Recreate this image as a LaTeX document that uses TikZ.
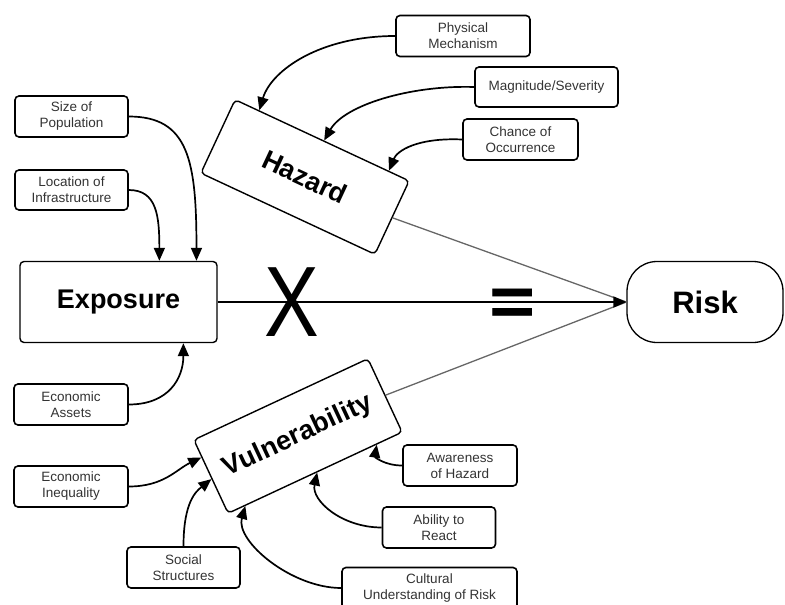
\documentclass[tikz,border=0pt]{standalone}
\usepackage{fontspec}
\setmainfont{Liberation Sans}
\usetikzlibrary{arrows.meta,calc}
\begin{document}
\begin{tikzpicture}[x=1pt,y=-1pt,
  smallbox/.style={draw, rounded corners=4pt, line width=1.6pt, inner sep=0pt,
    minimum height=41pt, align=center, text=black!80,
    font=\fontsize{13.5}{16}\selectfont},
  bigbox/.style={draw, rounded corners=4pt, line width=1.4pt, inner sep=0pt,
    minimum width=192pt, minimum height=81pt, font=\bfseries\fontsize{27}{30}\selectfont},
  conn/.style={line width=1.7pt, -{Triangle[length=13pt,width=11pt]}},
  feed/.style={line width=1.3pt, draw=black!60}
]
\useasboundingbox (0,0) rectangle (785,605);

% main nodes
\node[bigbox, minimum width=197pt] (ex) at (118.5,302) {Exposure};
\node[draw, line width=1.3pt, rounded corners=30pt, minimum width=156pt, minimum height=81pt,
  inner sep=0pt, font=\bfseries\fontsize{31}{34}\selectfont] (ri) at (705,302) {Risk};
\node[bigbox, rotate=-25] (hz) at (305,177) {Hazard};
\node[bigbox, rotate=25] (vu) at (298,436) {Vulnerability};

% small boxes
\node[smallbox, minimum width=134pt] (pm) at (463,36) {Physical\\Mechanism};
\node[smallbox, minimum width=143pt, minimum height=40pt] (ms) at (546.5,87) {Magnitude/Severity};
\node[smallbox, minimum width=115pt] (co) at (520.5,139.5) {Chance of\\Occurrence};
\node[smallbox, minimum width=113pt] (sp) at (71.5,116.5) {Size of\\Population};
\node[smallbox, minimum width=113pt, minimum height=40pt] (li) at (71.5,190) {Location of\\Infrastructure};
\node[smallbox, minimum width=114pt] (ea) at (71,404.5) {Economic\\Assets};
\node[smallbox, minimum width=114pt] (ei) at (71,486.5) {Economic\\Inequality};
\node[smallbox, minimum width=113pt] (ss) at (183.5,567.5) {Social\\Structures};
\node[smallbox, minimum width=114pt] (ah) at (460,465.5) {Awareness\\of Hazard};
\node[smallbox, minimum width=113pt] (ar) at (439,527.5) {Ability to\\React};
\node[smallbox, minimum width=175pt] (cu) at (429.5,588) {Cultural\\Understanding of Risk};

% operators
\node[inner sep=0pt, font=\fontsize{100}{100}\selectfont, xscale=0.82] (times) at (292,302) {X};
\node[inner sep=0pt, font=\bfseries\fontsize{72}{72}\selectfont, xscale=1.1] (eq) at (512.5,308) {=};

% lines to risk
\draw[feed] (hz.east) -- (ri.west);
\draw[feed] (vu.east) -- (ri.west);
\draw[conn] (ex.east) -- (ri.west);

% hazard feeders
\draw[conn] (pm.west) .. controls +(-75,0) and +(12,-40) .. ($(hz.north west)!0.14!(hz.north east)$);
\draw[conn] (ms.west) .. controls +(-65,-2) and +(20,-35) .. ($(hz.north west)!0.51!(hz.north east)$);
\draw[conn] (co.west) .. controls +(-45,-2) and +(8,-20) .. ($(hz.north west)!0.88!(hz.north east)$);

% exposure feeders
\draw[conn] (sp.east) .. controls +(60,0) and +(0,-100) .. ($(ex.north west)!0.893!(ex.north east)$);
\draw[conn] (li.east) .. controls +(28,0) and +(0,-45) .. ($(ex.north west)!0.706!(ex.north east)$);
\draw[conn] (ea.east) .. controls +(40,0) and +(0,35) .. ($(ex.south west)!0.827!(ex.south east)$);

% vulnerability feeders
\draw[conn] (ei.east) .. controls +(35,0) and +(-25,12) .. ($(vu.north west)!0.24!(vu.south west)$);
\draw[conn] (ss.north) .. controls +(0,-45) and +(-15,12) .. ($(vu.north west)!0.53!(vu.south west)$);
\draw[conn] (cu.west) .. controls +(-50,0) and +(-10,35) .. ($(vu.south west)!0.1!(vu.south east)$);
\draw[conn] (ar.west) .. controls +(-40,0) and +(-6,28) .. ($(vu.south west)!0.51!(vu.south east)$);
\draw[conn] (ah.west) .. controls +(-18,0) and +(-2,12) .. ($(vu.south west)!0.85!(vu.south east)$);
\end{tikzpicture}
\end{document}
